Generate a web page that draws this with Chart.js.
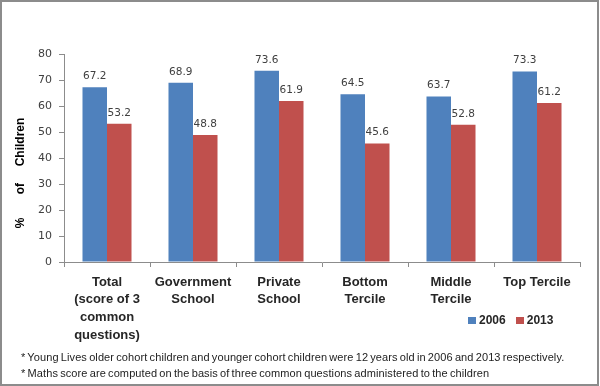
<!DOCTYPE html>
<html lang="en">
<head>
  <meta charset="UTF-8" />
  <title>Maths scores 2006 vs 2013</title>
  <script src="https://cdn.jsdelivr.net/npm/chart.js"></script>
  <style>
    html, body {
      margin: 0;
      padding: 0;
      background: #fff;
    }
    .wrap {
      position: relative;
      width: 600px;
      height: 386px;
      font-family: "Liberation Sans", Arial, sans-serif;
    }
    .frame {
      position: absolute;
      left: 0;
      top: 0;
      width: 599px;
      height: 386px;
      box-sizing: border-box;
      border: 2px solid #8c8c8c;
      pointer-events: none;
    }
    .legend {
      position: absolute;
      left: 468px;
      top: 313px;
      font-weight: bold;
      font-size: 12px;
      color: #262626;
      display: flex;
      align-items: center;
    }
    .legend .box {
      display: inline-block;
      width: 8px;
      height: 7px;
      margin-right: 3px;
    }
    .legend .item {
      display: flex;
      align-items: center;
      margin-right: 10px;
    }
    .notes {
      position: absolute;
      left: 21px;
      top: 349px;
      font-size: 11px;
      line-height: 16px;
      color: #222;
      letter-spacing: 0.1px;
      word-spacing: -1px;
      white-space: nowrap;
    }
  </style>
</head>
<body>
  <div class="wrap">
    <canvas id="chart" width="600" height="386"></canvas>
    <div class="legend" id="legend"></div>
    <div class="notes">
      <div>* Young Lives older cohort children and younger cohort children were 12 years old in 2006 and 2013 respectively.</div>
      <div>* Maths score are computed on the basis of three common questions administered to the children</div>
    </div>
    <div class="frame"></div>
  </div>

  <script>
    // chart data
    const categories = [
      ["Total", "(score of 3", "common", "questions)"],
      ["Government", "School"],
      ["Private", "School"],
      ["Bottom", "Tercile"],
      ["Middle", "Tercile"],
      "Top Tercile"
    ];
    const seriesNames = ["2006", "2013"];
    const values2006 = [67.2, 68.9, 73.6, 64.5, 63.7, 73.3];
    const values2013 = [53.2, 48.8, 61.9, 45.6, 52.8, 61.2];
    const yTicks = [0, 10, 20, 30, 40, 50, 60, 70, 80];
    const colors = ["#4f81bd", "#c0504d"];

    // value labels above each bar
    const barLabels = {
      id: "barLabels",
      afterDatasetsDraw(chart) {
        const ctx = chart.ctx;
        ctx.save();
        ctx.font = "10.5px 'DejaVu Sans', sans-serif";
        ctx.fillStyle = "#404040";
        ctx.textAlign = "center";
        ctx.textBaseline = "alphabetic";
        chart.data.datasets.forEach((ds, i) => {
          chart.getDatasetMeta(i).data.forEach((bar, j) => {
            ctx.fillText(ds.data[j].toFixed(1), bar.x, bar.y - 8);
          });
        });
        ctx.restore();
      }
    };

    new Chart(document.getElementById("chart"), {
      type: "bar",
      data: {
        labels: categories,
        datasets: [
          { label: seriesNames[0], data: values2006, backgroundColor: colors[0] },
          { label: seriesNames[1], data: values2013, backgroundColor: colors[1] }
        ]
      },
      options: {
        responsive: false,
        animation: false,
        layout: { padding: { top: 54, right: 20, left: 0, bottom: 0 } },
        datasets: {
          bar: { categoryPercentage: 0.57, barPercentage: 1.0 }
        },
        plugins: {
          legend: { display: false },
          tooltip: { enabled: false }
        },
        scales: {
          x: {
            grid: {
              offset: true,
              drawOnChartArea: false,
              tickLength: 5,
              color: "#8c8c8c"
            },
            border: { color: "#8c8c8c" },
            ticks: {
              color: "#262626",
              padding: 6,
              maxRotation: 0,
              autoSkip: false,
              font: { family: "'Liberation Sans', Arial, sans-serif", size: 13, weight: "bold", lineHeight: 1.38 }
            },
            afterFit(scale) { scale.height = 124; }
          },
          y: {
            min: 0,
            max: 80,
            afterBuildTicks(scale) { scale.ticks = yTicks.map(v => ({ value: v })); },
            grid: {
              drawOnChartArea: false,
              tickLength: 5,
              color: "#8c8c8c"
            },
            border: { color: "#8c8c8c" },
            ticks: {
              color: "#404040",
              padding: 7,
              font: { family: "'DejaVu Sans', sans-serif", size: 11 }
            },
            title: {
              display: true,
              text: "%       of     Children         ",
              color: "#000",
              padding: { top: 13, bottom: 0 },
              font: { family: "'Liberation Sans', Arial, sans-serif", size: 12, weight: "bold" }
            },
            afterFit(scale) { scale.width = 64; }
          }
        }
      },
      plugins: [barLabels]
    });

    // legend
    const legend = document.getElementById("legend");
    seriesNames.forEach((name, i) => {
      const item = document.createElement("span");
      item.className = "item";
      item.innerHTML = `<span class="box" style="background:${colors[i]}"></span>${name}`;
      legend.appendChild(item);
    });
  </script>
</body>
</html>
